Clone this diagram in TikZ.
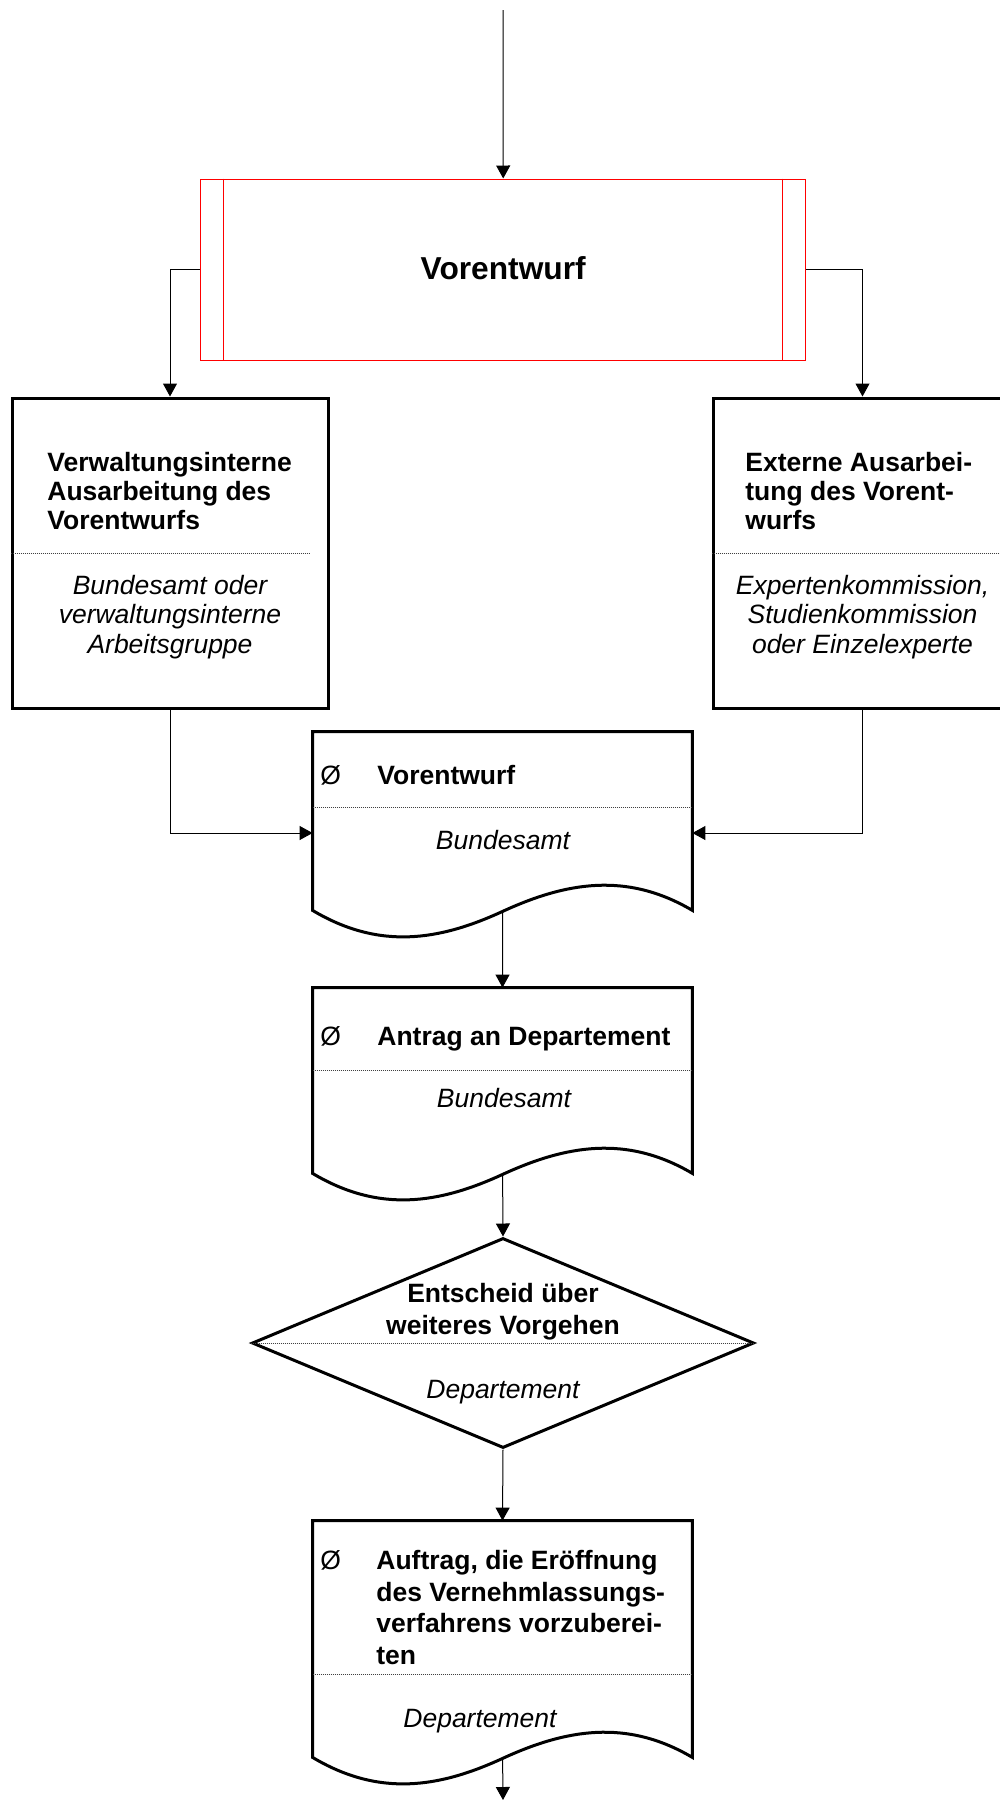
\documentclass[tikz,border=0pt]{standalone}
\usepackage{fontspec}
\setmainfont{Liberation Sans}
\usetikzlibrary{arrows.meta,calc,shapes.geometric}

% outline of a document symbol with a wavy lower edge
\newcommand\docoutline[1]{%
  \draw[thickframe] (#1.south west) -- (#1.north west) -- (#1.north east) -- (#1.south east)
    .. controls +(-66,-39) and +(63,-29) .. ($(#1.south west)+(190,1)$)
    .. controls +(-63,29) and +(67,40) .. (#1.south west) -- cycle;
  \coordinate (#1out) at ($(#1.south west)+(190,1)$);
}

\begin{document}
\begin{tikzpicture}[x=0.5pt,y=-0.5pt,
  conn/.style={draw=black,line width=0.5pt,-{Triangle[length=6.5pt,width=7pt]}},
  thickframe/.style={draw=black,line width=1.5pt},
  divider/.style={draw=black!75,line width=0.5pt,dash pattern=on 0.5pt off 0.5pt},
  ttl/.style={font=\fontsize{13.25}{14.65}\selectfont\bfseries,inner sep=0pt,align=left},
  ttlwide/.style={font=\fontsize{13.25}{15.85}\selectfont\bfseries,inner sep=0pt,align=left},
  who/.style={font=\fontsize{13.25}{14.75}\selectfont\itshape,inner sep=0pt,align=center},
  glyph/.style={font=\fontsize{13.25}{15}\selectfont,inner sep=0pt,anchor=base west},
  area/.style={rectangle,inner sep=0pt},
]
\useasboundingbox (0,0) rectangle (1000,1800);
\clip (0,0) rectangle (1000,1800);

\coordinate (start) at (503,10);

% predefined process: Vorentwurf
\node[area,draw=red,line width=0.5pt,minimum width=302.5pt,minimum height=90.5pt] (pre) at (503.2,269.5) {};
\draw[red,line width=0.5pt] ($(pre.north west)+(23.6,0)$) -- ($(pre.south west)+(23.6,0)$);
\draw[red,line width=0.5pt] ($(pre.north east)+(-24,0)$) -- ($(pre.south east)+(-24,0)$);
\node[font=\fontsize{15.85}{19}\selectfont\bfseries,inner sep=0pt,anchor=base] (preT) at (503.2,279.3) {Vorentwurf};

% internal drafting (multi-line texts are placed by the baseline of their last line)
\node[area,thickframe,minimum width=158pt,minimum height=155pt] (intern) at (170,553) {};
\node[ttl,anchor=base west] (internT) at (47,529.6) {Verwaltungsinterne\\Ausarbeitung des\\Vorentwurfs};
\draw[divider] (intern.west) -- ++(299,0);
\node[who,anchor=base] (internW) at (170,653) {Bundesamt oder\\verwaltungsinterne\\Arbeitsgruppe};

% external drafting
\node[area,thickframe,minimum width=149.5pt,minimum height=155pt] (extern) at (862.5,553) {};
\node[ttl,anchor=base west] (externT) at (745,529.6) {Externe Ausarbei-\\tung des Vorent-\\wurfs};
\draw[divider] (extern.west) -- (extern.east);
\node[who,anchor=base] (externW) at (862.5,653) {Expertenkommission,\\Studienkommission\\oder Einzelexperte};

% document: Vorentwurf
\node[area,minimum width=189.5pt,minimum height=89pt] (doc1) at (502.5,821) {};
\docoutline{doc1}
\node[glyph] (doc1g) at (320,784.5) {Ø};
\node[ttl,anchor=base west] (doc1T) at (377,784.5) {Vorentwurf};
\draw[divider] ($(doc1.north west)+(0,76)$) -- ++(379,0);
\node[who,anchor=base] (doc1W) at (503,849) {Bundesamt};

% document: Antrag an Departement
\node[area,minimum width=189.5pt,minimum height=92.5pt] (doc2) at (502.5,1080.5) {};
\docoutline{doc2}
\node[glyph] (doc2g) at (320,1045) {Ø};
\node[ttl,anchor=base west] (doc2T) at (377,1045) {Antrag an Departement};
\draw[divider] ($(doc2.north west)+(0,83)$) -- ++(379,0);
\node[who,anchor=base] (doc2W) at (504,1107.7) {Bundesamt};

% decision
\node[diamond,draw=black,line width=1.5pt,minimum width=251pt,minimum height=105pt,inner sep=0pt] (dec) at (503,1343) {};
\draw[divider] (dec.west) -- (dec.east);
\node[ttlwide,align=center,anchor=base] (decT) at (503,1334) {Entscheid über\\weiteres Vorgehen};
\node[who,anchor=base] (decW) at (503,1398.3) {Departement};

% document: Auftrag
\node[area,minimum width=189.5pt,minimum height=118pt] (doc3) at (502.5,1639) {};
\docoutline{doc3}
\node[glyph] (doc3g) at (320,1569.5) {Ø};
\node[ttlwide,anchor=base west] (doc3T) at (376,1664.6) {Auftrag, die Eröffnung\\des Vernehmlassungs-\\verfahrens vorzuberei-\\ten};
\draw[divider] ($(doc3.north west)+(0,154)$) -- ++(379,0);
\node[who,anchor=base west] (doc3W) at (403,1727.3) {Departement};

\coordinate (finish) at (503,1800);

% connectors
\draw[conn] (start) -- (pre.north);
\draw[conn] (pre.west) -| (intern.north);
\draw[conn] (pre.east) -| (extern.north);
\draw[conn] (intern.south) |- ($(doc1.west)+(0,12)$);
\draw[conn] (extern.south) |- ($(doc1.east)+(0,12)$);
\draw[conn] (doc1out) -- (doc2.north);
\draw[conn] (doc2out) -- (dec.north);
\draw[conn] (dec.south) -- (doc3.north);
\draw[conn] (doc3out) -- (finish);
\end{tikzpicture}
\end{document}
